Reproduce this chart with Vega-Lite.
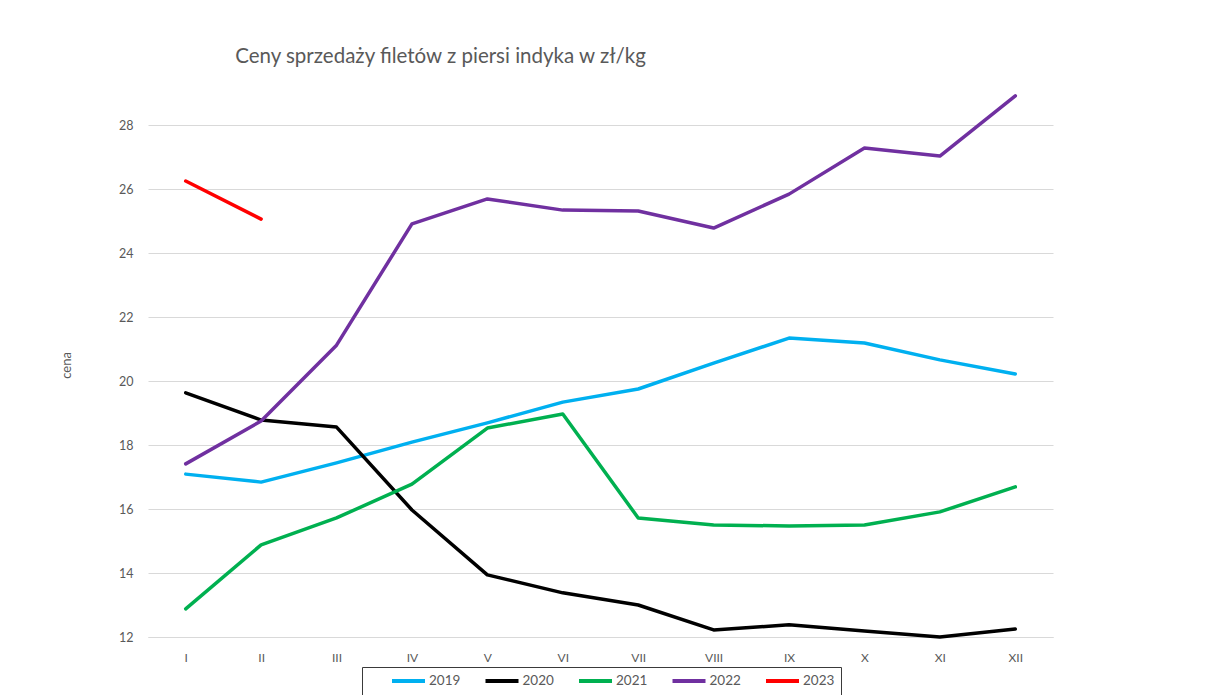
{
  "$schema": "https://vega.github.io/schema/vega-lite/v6.json",
  "width": 905,
  "height": 544,
  "autosize": {"type": "none"},
  "padding": {"left": 148, "top": 93, "right": 153, "bottom": 58},
  "background": "white",
  "title": {
    "text": "Ceny sprzedaży filetów z  piersi indyka w zł/kg",
    "anchor": "middle",
    "dx": -160,
    "offset": 26,
    "fontSize": 20.5,
    "font": "Lato",
    "fontWeight": "normal",
    "color": "#595959"
  },
  "config": {
    "view": {"stroke": null},
    "font": "Lato"
  },
  "data": {
    "values": [
      {"m": "I", "rok": "2019", "cena": 17.09},
      {"m": "II", "rok": "2019", "cena": 16.84},
      {"m": "III", "rok": "2019", "cena": 17.44},
      {"m": "IV", "rok": "2019", "cena": 18.09},
      {"m": "V", "rok": "2019", "cena": 18.69},
      {"m": "VI", "rok": "2019", "cena": 19.34},
      {"m": "VII", "rok": "2019", "cena": 19.75},
      {"m": "VIII", "rok": "2019", "cena": 20.56},
      {"m": "IX", "rok": "2019", "cena": 21.34},
      {"m": "X", "rok": "2019", "cena": 21.19},
      {"m": "XI", "rok": "2019", "cena": 20.66},
      {"m": "XII", "rok": "2019", "cena": 20.22},
      {"m": "I", "rok": "2020", "cena": 19.63},
      {"m": "II", "rok": "2020", "cena": 18.78},
      {"m": "III", "rok": "2020", "cena": 18.56},
      {"m": "IV", "rok": "2020", "cena": 15.97},
      {"m": "V", "rok": "2020", "cena": 13.94},
      {"m": "VI", "rok": "2020", "cena": 13.38},
      {"m": "VII", "rok": "2020", "cena": 13.0},
      {"m": "VIII", "rok": "2020", "cena": 12.22},
      {"m": "IX", "rok": "2020", "cena": 12.38},
      {"m": "X", "rok": "2020", "cena": 12.19},
      {"m": "XI", "rok": "2020", "cena": 12.0},
      {"m": "XII", "rok": "2020", "cena": 12.25},
      {"m": "I", "rok": "2021", "cena": 12.88},
      {"m": "II", "rok": "2021", "cena": 14.88},
      {"m": "III", "rok": "2021", "cena": 15.72},
      {"m": "IV", "rok": "2021", "cena": 16.78},
      {"m": "V", "rok": "2021", "cena": 18.53},
      {"m": "VI", "rok": "2021", "cena": 18.97},
      {"m": "VII", "rok": "2021", "cena": 15.72},
      {"m": "VIII", "rok": "2021", "cena": 15.5},
      {"m": "IX", "rok": "2021", "cena": 15.47},
      {"m": "X", "rok": "2021", "cena": 15.5},
      {"m": "XI", "rok": "2021", "cena": 15.91},
      {"m": "XII", "rok": "2021", "cena": 16.69},
      {"m": "I", "rok": "2022", "cena": 17.41},
      {"m": "II", "rok": "2022", "cena": 18.75},
      {"m": "III", "rok": "2022", "cena": 21.12},
      {"m": "IV", "rok": "2022", "cena": 24.91},
      {"m": "V", "rok": "2022", "cena": 25.69},
      {"m": "VI", "rok": "2022", "cena": 25.34},
      {"m": "VII", "rok": "2022", "cena": 25.31},
      {"m": "VIII", "rok": "2022", "cena": 24.78},
      {"m": "IX", "rok": "2022", "cena": 25.84},
      {"m": "X", "rok": "2022", "cena": 27.28},
      {"m": "XI", "rok": "2022", "cena": 27.03},
      {"m": "XII", "rok": "2022", "cena": 28.91},
      {"m": "I", "rok": "2023", "cena": 26.25},
      {"m": "II", "rok": "2023", "cena": 25.06}
    ]
  },
  "mark": {"type": "line", "strokeWidth": 3.5, "strokeJoin": "round", "strokeCap": "round"},
  "encoding": {
    "x": {
      "field": "m",
      "type": "ordinal",
      "sort": ["I", "II", "III", "IV", "V", "VI", "VII", "VIII", "IX", "X", "XI", "XII"],
      "scale": {"type": "point", "padding": 0.5},
      "axis": {
        "title": null,
        "labelAngle": 0,
        "ticks": false,
        "tickSize": 0,
        "labelPadding": 15,
        "labelFontSize": 12,
        "labelColor": "#595959",
        "domainColor": "#D9D9D9",
        "grid": false
      }
    },
    "y": {
      "field": "cena",
      "type": "quantitative",
      "scale": {"domain": [12, 29], "nice": false, "zero": false},
      "axis": {
        "title": "cena",
        "values": [12, 14, 16, 18, 20, 22, 24, 26, 28],
        "domain": false,
        "ticks": false,
        "tickSize": 0,
        "labelPadding": 15,
        "labelFontSize": 12.5,
        "labelColor": "#595959",
        "gridColor": "#D9D9D9",
        "gridWidth": 1,
        "titleFontSize": 13,
        "titleFontWeight": "normal",
        "titleColor": "#595959",
        "titlePadding": 45
      }
    },
    "color": {
      "field": "rok",
      "type": "nominal",
      "scale": {
        "domain": ["2019", "2020", "2021", "2022", "2023"],
        "range": ["#00B0F0", "#000000", "#00B050", "#7030A0", "#FF0000"]
      },
      "legend": {
        "title": null,
        "orient": "none",
        "legendX": 214,
        "legendY": 574,
        "direction": "horizontal",
        "columns": 5,
        "columnPadding": 0.5,
        "padding": 6,
        "clipHeight": 16,
        "symbolType": "stroke",
        "symbolSize": 1089,
        "symbolOffset": 22,
        "symbolStrokeWidth": 4,
        "labelOffset": 2,
        "labelFontSize": 13.5,
        "labelColor": "#595959",
        "strokeColor": "#3a3a3a",
        "fillColor": "white"
      }
    }
  }
}
